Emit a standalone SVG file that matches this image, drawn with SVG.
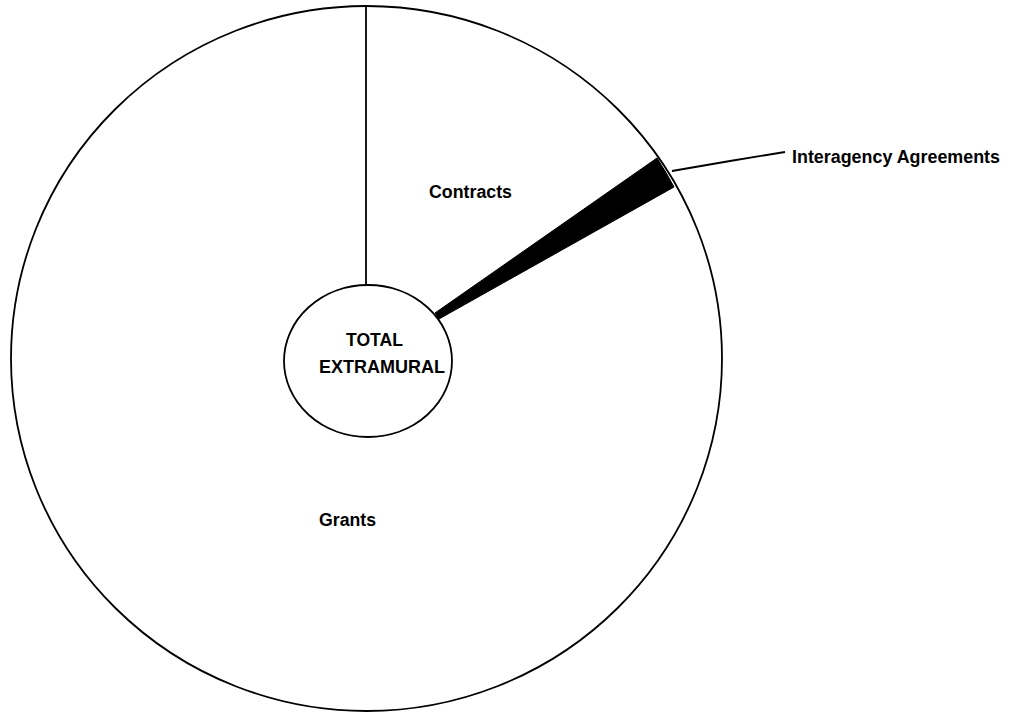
<svg xmlns="http://www.w3.org/2000/svg" width="1017" height="713" viewBox="0 0 1017 713">
<style>
.ln{fill:none;stroke:#000;stroke-width:1.8}
.t{font-family:"Liberation Sans",Arial,sans-serif;font-weight:bold;font-size:18px;fill:#000}
</style>
<rect width="1017" height="713" fill="#fff"/>
<g id="pie">
<ellipse class="ln" cx="366.5" cy="358.5" rx="355.5" ry="352.5"/>
</g>
<g id="connectors">
<line class="ln" x1="366" y1="6" x2="366" y2="286"/>
<path d="M435,313 L657,158 A355.5,352.5 0 0 1 674,187 L439,319 Z" fill="#000" stroke="#000" stroke-width="1"/>
<polyline class="ln" points="672,171 730,161 785,152"/>
</g>
<g id="center">
<ellipse class="ln" cx="368" cy="361" rx="84" ry="76" fill="#fff"/>
<text class="t" x="346" y="346" textLength="57" lengthAdjust="spacingAndGlyphs">TOTAL</text>
<text class="t" x="319" y="373" textLength="126" lengthAdjust="spacingAndGlyphs">EXTRAMURAL</text>
</g>
<g id="contracts"><text class="t" x="429" y="198" textLength="83" lengthAdjust="spacingAndGlyphs">Contracts</text></g>
<g id="grants"><text class="t" x="319" y="526" textLength="57" lengthAdjust="spacingAndGlyphs">Grants</text></g>
<g id="interagency"><text class="t" x="792" y="163" textLength="208" lengthAdjust="spacingAndGlyphs">Interagency Agreements</text></g>
</svg>
